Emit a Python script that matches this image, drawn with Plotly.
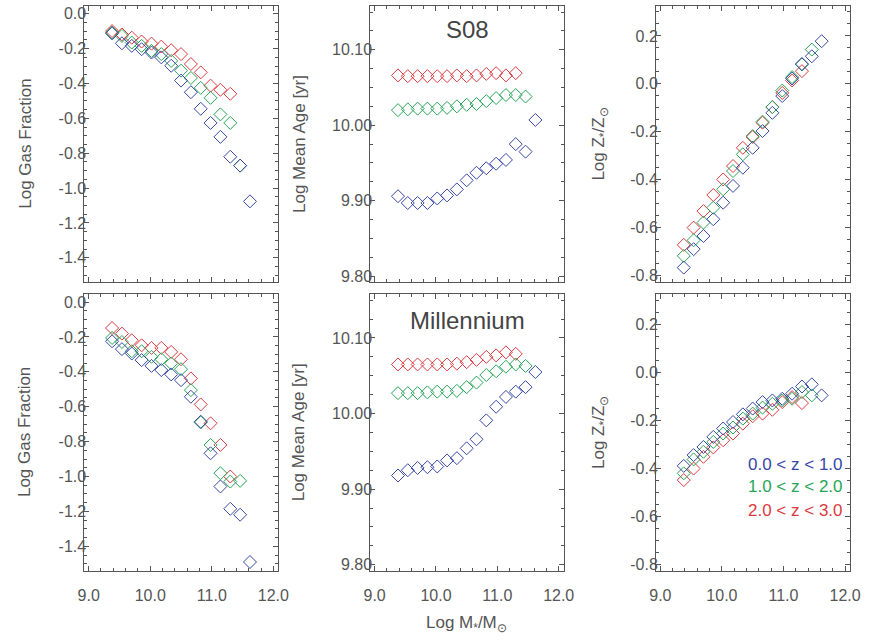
import plotly.graph_objects as go

W, H = 874, 643

# Stellar-mass bin centres (Log M*/Msun)
mass = [9.38, 9.54, 9.70, 9.86, 10.02, 10.18, 10.34, 10.50,
        10.66, 10.82, 10.98, 11.14, 11.30, 11.46, 11.62]

# ---- S08 model ----
s08_gas_z01 = [-0.112, -0.169, -0.184, -0.203, -0.222, -0.250, -0.298, -0.383,
               -0.450, -0.545, -0.626, -0.706, -0.820, -0.871, -1.076]
s08_gas_z12 = [-0.108, -0.127, -0.165, -0.184, -0.213, -0.231, -0.270, -0.326,
               -0.368, -0.425, -0.482, -0.577, -0.626, -0.871]
s08_gas_z23 = [-0.099, -0.118, -0.137, -0.159, -0.171, -0.188, -0.209, -0.231,
               -0.288, -0.336, -0.412, -0.436, -0.459]

s08_age_z01 = [9.906, 9.897, 9.897, 9.897, 9.903, 9.907, 9.915, 9.927,
               9.937, 9.943, 9.949, 9.954, 9.975, 9.965, 10.007]
s08_age_z12 = [10.020, 10.021, 10.022, 10.022, 10.022, 10.023, 10.025, 10.027,
               10.028, 10.032, 10.036, 10.040, 10.040, 10.038]
s08_age_z23 = [10.066, 10.065, 10.065, 10.065, 10.065, 10.065, 10.066, 10.065,
               10.066, 10.068, 10.069, 10.066, 10.069]

s08_met_z01 = [-0.767, -0.690, -0.635, -0.565, -0.496, -0.426, -0.350, -0.267,
               -0.197, -0.121, -0.051, 0.022, 0.083, 0.115, 0.178]
s08_met_z12 = [-0.718, -0.653, -0.579, -0.517, -0.440, -0.364, -0.294, -0.218,
               -0.158, -0.097, -0.028, 0.028, 0.081, 0.143]
s08_met_z23 = [-0.672, -0.600, -0.531, -0.464, -0.399, -0.343, -0.267, -0.222,
               -0.162, -0.097, -0.038, 0.014, 0.053]

# ---- Millennium model ----
mil_gas_z01 = [-0.225, -0.270, -0.295, -0.333, -0.366, -0.390, -0.415, -0.448,
               -0.543, -0.686, -0.867, -1.057, -1.185, -1.219, -1.490]
mil_gas_z12 = [-0.206, -0.229, -0.282, -0.282, -0.314, -0.328, -0.352, -0.385,
               -0.505, -0.690, -0.819, -0.981, -1.029, -1.025]
mil_gas_z23 = [-0.149, -0.181, -0.219, -0.248, -0.263, -0.263, -0.286, -0.328,
               -0.438, -0.587, -0.695, -0.819, -1.000]

mil_age_z01 = [9.918, 9.925, 9.928, 9.929, 9.930, 9.938, 9.941, 9.954,
               9.966, 9.991, 10.009, 10.022, 10.029, 10.035, 10.055]
mil_age_z12 = [10.027, 10.027, 10.027, 10.028, 10.029, 10.029, 10.030, 10.035,
               10.041, 10.051, 10.056, 10.062, 10.065, 10.063]
mil_age_z23 = [10.065, 10.065, 10.065, 10.065, 10.065, 10.065, 10.066, 10.068,
               10.071, 10.075, 10.077, 10.081, 10.079]

mil_met_z01 = [-0.391, -0.346, -0.312, -0.270, -0.235, -0.208, -0.176, -0.152,
               -0.125, -0.118, -0.111, -0.090, -0.060, -0.051, -0.097]
mil_met_z12 = [-0.422, -0.364, -0.332, -0.291, -0.256, -0.231, -0.194, -0.173,
               -0.148, -0.132, -0.118, -0.111, -0.083, -0.097]
mil_met_z23 = [-0.450, -0.402, -0.353, -0.314, -0.284, -0.256, -0.215, -0.184,
               -0.173, -0.157, -0.125, -0.104, -0.129]

z_bins = ["0.0 < z < 1.0", "1.0 < z < 2.0", "2.0 < z < 3.0"]
colors = ["#3747a6", "#27a556", "#dc3a40"]

mass_ticks = [9.0, 10.0, 11.0, 12.0]
gas_ticks = [0.0, -0.2, -0.4, -0.6, -0.8, -1.0, -1.2, -1.4]
age_ticks = [9.80, 9.90, 10.00, 10.10]
met_ticks = [0.2, 0.0, -0.2, -0.4, -0.6, -0.8]

panels = [
    (s08_gas_z01, s08_gas_z12, s08_gas_z23),
    (s08_age_z01, s08_age_z12, s08_age_z23),
    (s08_met_z01, s08_met_z12, s08_met_z23),
    (mil_gas_z01, mil_gas_z12, mil_gas_z23),
    (mil_age_z01, mil_age_z12, mil_age_z23),
    (mil_met_z01, mil_met_z12, mil_met_z23),
]

INK = "#555555"
FONT = "Liberation Sans, Arial, sans-serif"

fig = go.Figure()

for p, series in enumerate(panels):
    ax = "" if p == 0 else str(p + 1)
    # draw the highest-redshift bin first so blue ends up on top
    for k in (2, 1, 0):
        vals = series[k]
        fig.add_trace(go.Scatter(
            x=mass[:len(vals)], y=vals, mode="markers",
            xaxis="x" + ax, yaxis="y" + ax, name=z_bins[k], showlegend=False,
            marker=dict(symbol="diamond-open", size=10, color=colors[k],
                        line=dict(width=1, color=colors[k])),
        ))

# panel frames in pixels: (left, right) per column, (top, bottom) per row
cols_px = [(79, 277), (371, 568.3), (662.7, 860.7)]
rows_px = [(5, 283), (295, 573.3)]

y_specs = [
    ([-1.54, 0.045], gas_ticks, 0.05, ".1f"),
    ([9.792, 10.158], age_ticks, 0.025, ".2f"),
    ([-0.828, 0.325], met_ticks, 0.05, ".1f"),
]

layout = dict(
    width=W, height=H, margin=dict(l=0, r=0, t=0, b=0),
    paper_bgcolor="white", plot_bgcolor="white",
    font=dict(family=FONT, color=INK, size=16),
)

for p in range(6):
    r, c = divmod(p, 3)
    ax = "" if p == 0 else str(p + 1)
    x0, x1 = cols_px[c]
    t, b = rows_px[r]
    yr, yt, ymin, yfmt = y_specs[c]
    common = dict(showline=True, linecolor=INK, linewidth=1, mirror="allticks",
                  ticks="inside", ticklen=5, tickcolor=INK, tickwidth=1,
                  showgrid=False, zeroline=False,
                  tickfont=dict(size=16, color=INK, family=FONT))
    layout["xaxis" + ax] = dict(
        common, domain=[x0 / W, x1 / W], range=[8.93, 12.08],
        anchor="y" + ax, tickmode="array", tickvals=mass_ticks,
        ticktext=[f"{v:.1f}" for v in mass_ticks],
        showticklabels=(r == 1), ticklabelstandoff=10,
        minor=dict(tickmode="linear", tick0=9.0, dtick=0.2, ticks="inside",
                   ticklen=3, tickcolor=INK, showgrid=False),
    )
    layout["yaxis" + ax] = dict(
        common, domain=[1 - b / H, 1 - t / H], range=yr,
        anchor="x" + ax, tickmode="array", tickvals=yt,
        ticktext=[format(v, yfmt) for v in yt], ticklabelstandoff=-6,
        minor=dict(tickmode="linear", tick0=0.0, dtick=ymin, ticks="inside",
                   ticklen=3, tickcolor=INK, showgrid=False),
    )

fig.update_layout(**layout)

annotations = []
y_titles = ["Log Gas Fraction", "Log Mean Age [yr]",
            "Log Z<sub>*</sub>/Z<sub>⊙</sub>"]
title_x = [18, 298, 606]
for r, (t, b) in enumerate(rows_px):
    yc = 1 - (t + b) / 2 / H
    for c in range(3):
        annotations.append(dict(
            text=y_titles[c], xref="paper", yref="paper",
            x=title_x[c] / W, y=yc, xanchor="center", yanchor="middle",
            textangle=-90, showarrow=False,
            font=dict(size=17, color=INK, family=FONT)))

# model names
for label, py in (("S08", 29), ("Millennium", 322)):
    annotations.append(dict(
        text=label, xref="paper", yref="paper", x=470 / W, y=1 - py / H,
        xanchor="center", yanchor="middle", showarrow=False,
        font=dict(size=24, color="#444444", family=FONT)))

# shared x-axis title
annotations.append(dict(
    text="Log M<sub>*</sub>/M<sub>⊙</sub>", xref="paper", yref="paper",
    x=469 / W, y=1 - 627 / H, xanchor="center", yanchor="middle",
    showarrow=False, font=dict(size=17, color=INK, family=FONT)))

# redshift key
for k, py in enumerate((466, 489, 513)):
    annotations.append(dict(
        text=z_bins[k], xref="paper", yref="paper", x=856 / W, y=1 - py / H,
        xanchor="right", yanchor="middle", showarrow=False,
        font=dict(size=17, color=colors[k], family=FONT)))

fig.update_layout(annotations=annotations)

fig.write_html("out.html")
